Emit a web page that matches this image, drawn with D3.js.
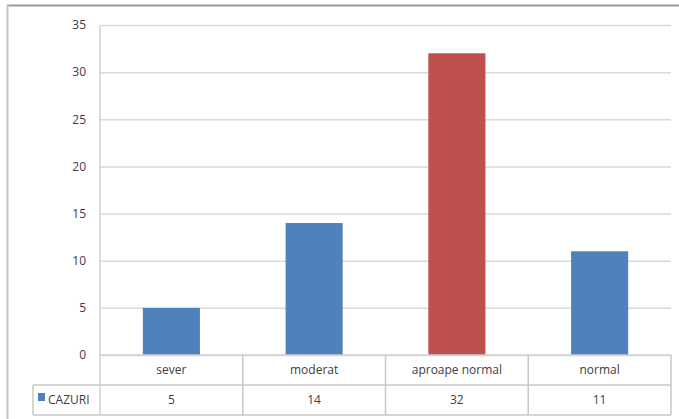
<!DOCTYPE html>
<html>
<head>
<meta charset="utf-8">
<script src="https://cdn.jsdelivr.net/npm/d3@7"></script>
<style>
  html, body { margin: 0; padding: 0; background: #fff; }
  svg { display: block; }
  text { font-family: "Open Sans", "Liberation Sans", sans-serif; fill: #404040; }
</style>
</head>
<body>
<svg id="chart" width="679" height="419"></svg>
<script>
// Cases per category
const categories = ["sever", "moderat", "aproape normal", "normal"];
const values = [5, 14, 32, 11];
const seriesName = "CAZURI";
const yTicks = [0, 5, 10, 15, 20, 25, 30, 35];
const highlight = "aproape normal";

const svg = d3.select("#chart");
const plot = { left: 100, right: 671, top: 25, bottom: 355 };
const rowH = 30;

// Chart frame
svg.append("line").attr("x1", 7).attr("x2", 679).attr("y1", 5.5).attr("y2", 5.5)
  .attr("stroke", "#9a9a9a").attr("stroke-width", 2);
svg.append("line").attr("x1", 7.5).attr("x2", 7.5).attr("y1", 5).attr("y2", 419)
  .attr("stroke", "#c4c4c4").attr("stroke-width", 2);

const x = d3.scaleBand().domain(categories).range([plot.left, plot.right]).paddingInner(0.6).paddingOuter(0.3);
const xCell = d3.scaleBand().domain(categories).range([plot.left, plot.right]);
const y = d3.scaleLinear().domain([0, 35]).range([plot.bottom, plot.top]);

// Gridlines and y labels
const yAxis = d3.axisLeft(y).tickValues(yTicks).tickSize(-(plot.right - plot.left)).tickPadding(14);
const gy = svg.append("g").attr("transform", `translate(${plot.left},0)`).call(yAxis);
gy.select(".domain").remove();
gy.selectAll(".tick line").attr("stroke", "#d9d9d9").attr("stroke-width", 1.5);
gy.selectAll(".tick text").attr("font-size", 12).attr("fill", "#404040")
  .style("font-family", "'Open Sans', 'Liberation Sans', sans-serif");

// Bars
svg.append("g").selectAll("rect").data(values).join("rect")
  .attr("x", (d, i) => x(categories[i]))
  .attr("width", x.bandwidth())
  .attr("y", d => y(d))
  .attr("height", d => y(0) - y(d))
  .attr("fill", (d, i) => categories[i] === highlight ? "#C0504D" : "#4F81BD");

// Y axis line (drawn over gridline ends)
svg.append("line").attr("x1", plot.left).attr("x2", plot.left).attr("y1", plot.top).attr("y2", plot.bottom + rowH * 2)
  .attr("stroke", "#d0d0d0").attr("stroke-width", 1.5);

// Data table under the axis
const table = svg.append("g");
const lineCol = "#c8c8c8";
const yRow1 = plot.bottom, yRow2 = plot.bottom + rowH, yRow3 = plot.bottom + rowH * 2;
// horizontal rules
table.append("line").attr("x1", plot.left).attr("x2", plot.right).attr("y1", yRow1).attr("y2", yRow1)
  .attr("stroke", "#d0d0d0").attr("stroke-width", 1.5);
table.append("line").attr("x1", 33).attr("x2", plot.right).attr("y1", yRow2).attr("y2", yRow2)
  .attr("stroke", lineCol).attr("stroke-width", 1.5);
table.append("line").attr("x1", 33).attr("x2", plot.right).attr("y1", yRow3).attr("y2", yRow3)
  .attr("stroke", lineCol).attr("stroke-width", 1.5);
// vertical rules
table.append("line").attr("x1", 33).attr("x2", 33).attr("y1", yRow2).attr("y2", yRow3)
  .attr("stroke", lineCol).attr("stroke-width", 1.5);
table.selectAll("line.sep").data(categories).join("line").attr("class", "sep")
  .attr("x1", d => xCell(d) + xCell.bandwidth()).attr("x2", d => xCell(d) + xCell.bandwidth())
  .attr("y1", yRow1).attr("y2", yRow3)
  .attr("stroke", lineCol).attr("stroke-width", 1.5);

// category names
table.selectAll("text.cat").data(categories).join("text").attr("class", "cat")
  .attr("x", d => xCell(d) + xCell.bandwidth() / 2)
  .attr("y", yRow1 + rowH / 2 + 4)
  .attr("text-anchor", "middle").attr("font-size", 12)
  .text(d => d);
// values
table.selectAll("text.val").data(values).join("text").attr("class", "val")
  .attr("x", (d, i) => xCell(categories[i]) + xCell.bandwidth() / 2)
  .attr("y", yRow2 + rowH / 2 + 4)
  .attr("text-anchor", "middle").attr("font-size", 12)
  .text(d => d);
// legend key
table.append("rect").attr("x", 38).attr("y", yRow2 + 8).attr("width", 7).attr("height", 8).attr("fill", "#4F81BD");
table.append("text").attr("x", 48).attr("y", yRow2 + rowH / 2 + 4).attr("font-size", 12).text(seriesName);
</script>
</body>
</html>
